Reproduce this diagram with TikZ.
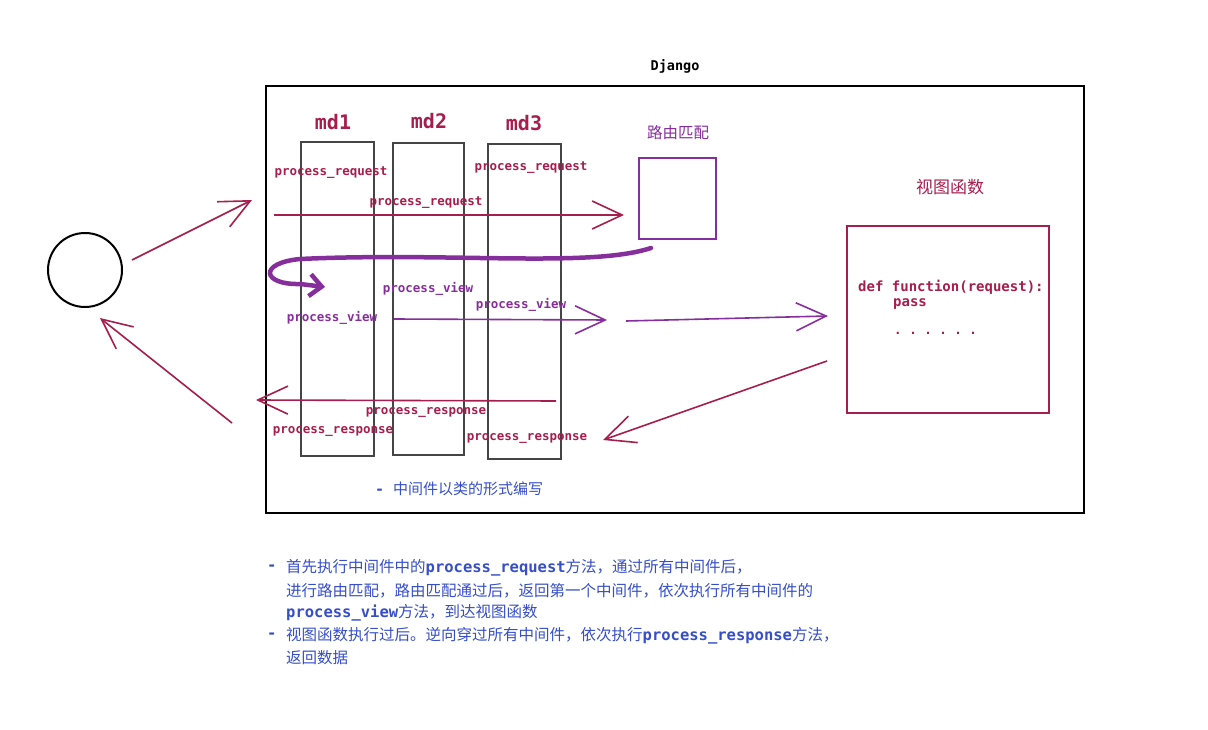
\documentclass[tikz,border=0pt]{standalone}
\usepackage{fontspec}
\setmainfont{Noto Sans CJK SC}
\setmonofont{DejaVu Sans Mono}
\usetikzlibrary{arrows.meta}
\definecolor{crim}{HTML}{A61E4D}
\definecolor{purp}{HTML}{862E9C}
\definecolor{blu}{HTML}{364FC7}
\definecolor{gry}{HTML}{454545}
\tikzset{
  mdbox/.style={draw=gry, line width=1.6pt, inner sep=0pt, outer sep=0pt},
  lbl/.style={inner sep=0pt, font=\ttfamily\bfseries\fontsize{12.5}{14}\selectfont},
  mdlbl/.style={inner sep=0pt, text=crim, font=\ttfamily\bfseries\fontsize{20}{22}\selectfont},
  sk/.style={line width=1.6pt, -{Straight Barb[length=30pt,width=28pt,line width=1.6pt]}},
  bline/.style={inner sep=0pt, anchor=west, text=blu, font=\fontsize{15.5}{18}\selectfont},
}
\newcommand{\mytt}[1]{{\ttfamily\bfseries #1}}
\begin{document}
\begin{tikzpicture}[x=1pt,y=-1pt]
\useasboundingbox[fill=white] (0,0) rectangle (1208,730);

% Django frame
\node[inner sep=0pt, font=\ttfamily\bfseries\fontsize{13.5}{15}\selectfont] (djl) at (675,66) {Django};
\node[draw=black, line width=1.8pt, minimum width=818pt, minimum height=427pt, inner sep=0pt] (dj) at (675,299.5) {};

% client
\node[draw=black, line width=2pt, circle, minimum size=74pt, inner sep=0pt] (cl) at (85,270) {};

% middleware boxes
\node[mdbox, minimum width=73pt, minimum height=314pt] (md1) at (337.5,299) {};
\node[mdbox, minimum width=71pt, minimum height=312pt] (md2) at (428.5,299) {};
\node[mdbox, minimum width=73pt, minimum height=315pt] (md3) at (524.5,301.5) {};
\node[mdlbl] (md1l) at (333,122) {md1};
\node[mdlbl] (md2l) at (429,121) {md2};
\node[mdlbl] (md3l) at (524,123) {md3};

% route box
\node[inner sep=0pt, text=purp, font=\fontsize{15.5}{18}\selectfont] (rtl) at (678,133) {路由匹配};
\node[draw=purp, line width=1.5pt, minimum width=77pt, minimum height=81pt, inner sep=0pt] (rt) at (677.5,198.5) {};

% view box
\node[inner sep=0pt, text=crim, font=\fontsize{17}{20}\selectfont] (vwl) at (950,187) {视图函数};
\node[draw=crim, line width=1.8pt, minimum width=202pt, minimum height=187pt, inner sep=0pt] (vw) at (948,319.5) {};
\node[inner sep=0pt, anchor=west, text=crim, font=\ttfamily\bfseries\fontsize{14}{16}\selectfont] (def) at (858,287) {def function(request):};
\node[inner sep=0pt, anchor=west, text=crim, font=\ttfamily\bfseries\fontsize{14}{16}\selectfont] (pass) at (893,304) {pass};
\node[inner sep=0pt, anchor=west, text=crim, font=\ttfamily\bfseries\fontsize{12.5}{16}\selectfont] (dots) at (894,333) {. . . . . .};

% process labels
\node[lbl, text=crim] (pr1) at (331,173) {process\_request};
\node[lbl, text=crim] (pr2) at (426,203) {process\_request};
\node[lbl, text=crim] (pr3) at (531,168) {process\_request};
\node[lbl, text=purp] (pv1) at (428,289) {process\_view};
\node[lbl, text=purp] (pv2) at (332,318) {process\_view};
\node[lbl, text=purp] (pv3) at (521,305) {process\_view};
\node[lbl, text=crim] (ps1) at (426,412) {process\_response};
\node[lbl, text=crim] (ps2) at (333,431) {process\_response};
\node[lbl, text=crim] (ps3) at (527,438) {process\_response};

% arrow endpoints
\coordinate (a1s) at (132,260); \coordinate (a1e) at (252,200);
\coordinate (a2s) at (274,215); \coordinate (a2e) at (624,215);
\coordinate (a4s) at (394,319); \coordinate (a4e) at (607,320);
\coordinate (a5s) at (626,321); \coordinate (a5e) at (828,316);
\coordinate (a6s) at (827,361); \coordinate (a6e) at (603,440);
\coordinate (a7s) at (556,401); \coordinate (a7e) at (256,400);
\coordinate (a8s) at (232,423); \coordinate (a8e) at (100,318);
\coordinate (c0) at (651,248); \coordinate (c1) at (300,259);
\coordinate (c2) at (300,284); \coordinate (c3) at (325,287);

\draw[sk, crim] (a1s) -- (a1e);
\draw[sk, crim] (a2s) -- (a2e);
\draw[sk, purp] (a4s) -- (a4e);
\draw[sk, purp] (a5s) -- (a5e);
\draw[sk, crim] (a6s) -- (a6e);
\draw[sk, crim] (a7s) -- (a7e);
\draw[sk, crim] (a8s) -- (a8e);

% thick purple return curve
\draw[purp, line width=4.5pt, line cap=round, -{Straight Barb[length=12pt,width=22pt,line width=4.5pt]}]
  (c0) .. controls (590,268) and (450,252) .. (c1)
  .. controls (258,263) and (262,285) .. (c2) -- (c3);

% notes
\node[inner sep=0pt, anchor=west, text=blu, font=\fontsize{15}{18}\selectfont] (note1) at (375,489) {\mytt{-}\hspace{9pt}中间件以类的形式编写};

\node[bline] (b1d) at (267,568) {\mytt{-}};
\node[bline] (b1) at (286,568) {首先执行中间件中的\mytt{process\_request}方法，通过所有中间件后，};
\node[bline] (b2) at (286,591) {进行路由匹配，路由匹配通过后，返回第一个中间件，依次执行所有中间件的};
\node[bline] (b3) at (286,613) {\mytt{process\_view}方法，到达视图函数};
\node[bline] (b4d) at (267,636) {\mytt{-}};
\node[bline] (b4) at (286,636) {视图函数执行过后。逆向穿过所有中间件，依次执行\mytt{process\_response}方法，};
\node[bline] (b5) at (286,658) {返回数据};
\end{tikzpicture}
\end{document}
